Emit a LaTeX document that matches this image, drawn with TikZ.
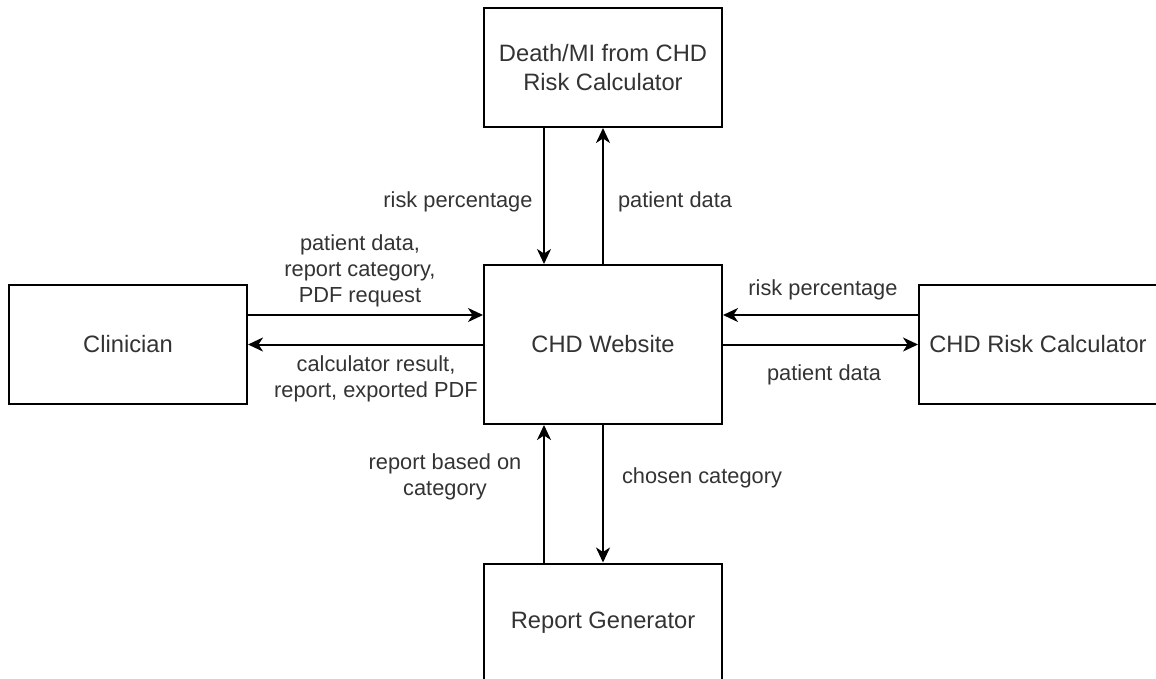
\documentclass[tikz,border=0pt]{standalone}
\usepackage{fontspec}
\setmainfont{Liberation Sans}
\usetikzlibrary{arrows.meta}
\definecolor{txt}{HTML}{333333}
\tikzset{
  box/.style={draw=black, line width=2pt, fill=white, minimum width=238pt, minimum height=119pt,
    inner sep=0pt, align=center, text=txt, font=\fontsize{23.7}{28.4}\selectfont},
  lbl/.style={align=center, text=txt, inner sep=0pt, font=\fontsize{21.8}{26.2}\selectfont},
  arr/.style={line width=2pt, -{Stealth[length=15pt,width=14pt,inset=4.5pt]}}
}
\begin{document}
\begin{tikzpicture}[x=1pt,y=-1pt]
\useasboundingbox (0,0) rectangle (1156,678);
\node[box] (T) at (603,67.5) {Death/MI from CHD\\Risk Calculator};
\node[box, minimum height=159pt] (W) at (603,344.5) {CHD Website};
\node[box] (C) at (128,344.5) {Clinician};
\node[box] (R) at (1038,344.5) {CHD Risk Calculator};
\node[box] (G) at (603,623) {Report Generator};

\draw[arr] ([xshift=-59pt]T.south) -- ([xshift=-59pt]W.north);
\draw[arr] (W.north) -- (T.south);
\draw[arr] ([yshift=29.5pt]C.east) -- ([yshift=29.5pt]W.west);
\draw[arr] (W.west) -- (C.east);
\draw[arr] ([yshift=29.5pt]R.west) -- ([yshift=29.5pt]W.east);
\draw[arr] (W.east) -- (R.west);
\draw[arr] ([xshift=-59pt]G.north) -- ([xshift=-59pt]W.south);
\draw[arr] (W.south) -- (G.north);

\node[lbl] (l1) at (458,202) {risk percentage};
\node[lbl] (l2) at (675,202) {patient data};
\node[lbl] (l3) at (360,271) {patient data,\\report category,\\PDF request};
\node[lbl] (l4) at (376,379) {calculator result,\\report, exported PDF};
\node[lbl] (l5) at (823,290) {risk percentage};
\node[lbl] (l6) at (824,375) {patient data};
\node[lbl] (l7) at (445,477) {report based on\\category};
\node[lbl] (l8) at (702,478) {chosen category};
\end{tikzpicture}
\end{document}
